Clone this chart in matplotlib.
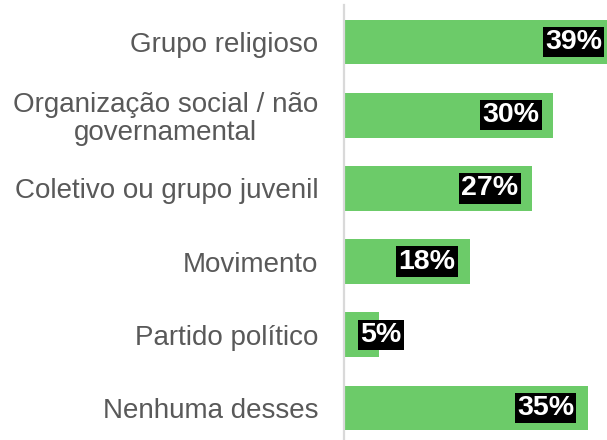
import matplotlib
matplotlib.use("Agg")
import matplotlib.pyplot as plt

categorias = ["Grupo religioso",
              "Organização social / não\ngovernamental",
              "Coletivo ou grupo juvenil",
              "Movimento",
              "Partido político",
              "Nenhuma desses"]
valores = [39, 30, 27, 18, 5, 35]
rotulos = ["39%", "30%", "27%", "18%", "5%", "35%"]

verde = "#6CCB69"
cinza = "#595959"

plt.rcParams["font.family"] = ["Liberation Sans", "DejaVu Sans"]

fig = plt.figure(figsize=(6.07, 4.4), dpi=100)
ax = fig.add_axes([344 / 607, 0, 1 - 344 / 607, 1 - 5 / 440])

pos = list(range(len(categorias)))
ax.barh(pos, valores, height=0.61, color=verde, zorder=2)

ax.set_xlim(0, 37.7)
ax.set_ylim(5.437, -0.505)

ax.set_yticks(pos)
ax.set_yticklabels(categorias, fontsize=20, color=cinza,
                   multialignment="center", linespacing=1.1)
ax.tick_params(axis="y", length=0, pad=18.5)
ax.set_xticks([])

for s in ["top", "right", "bottom"]:
    ax.spines[s].set_visible(False)
ax.spines["left"].set_color("#D9D9D9")
ax.spines["left"].set_linewidth(1.6)

for y, v, txt in zip(pos, valores, rotulos):
    if v < 10:
        # barra curta: rotulo comeca perto do eixo
        ax.annotate(txt, (0, y), xytext=(16, 0), textcoords="offset pixels",
                    ha="left", va="center", fontsize=20.5, fontweight="bold",
                    color="white", zorder=3,
                    bbox=dict(boxstyle="square,pad=0.08", fc="black", ec="none"))
    else:
        ax.annotate(txt, (v, y), xytext=(-14, 0), textcoords="offset pixels",
                    ha="right", va="center", fontsize=20.5, fontweight="bold",
                    color="white", zorder=3, annotation_clip=False,
                    bbox=dict(boxstyle="square,pad=0.08", fc="black", ec="none"))

fig.savefig("out.png", dpi=100)
